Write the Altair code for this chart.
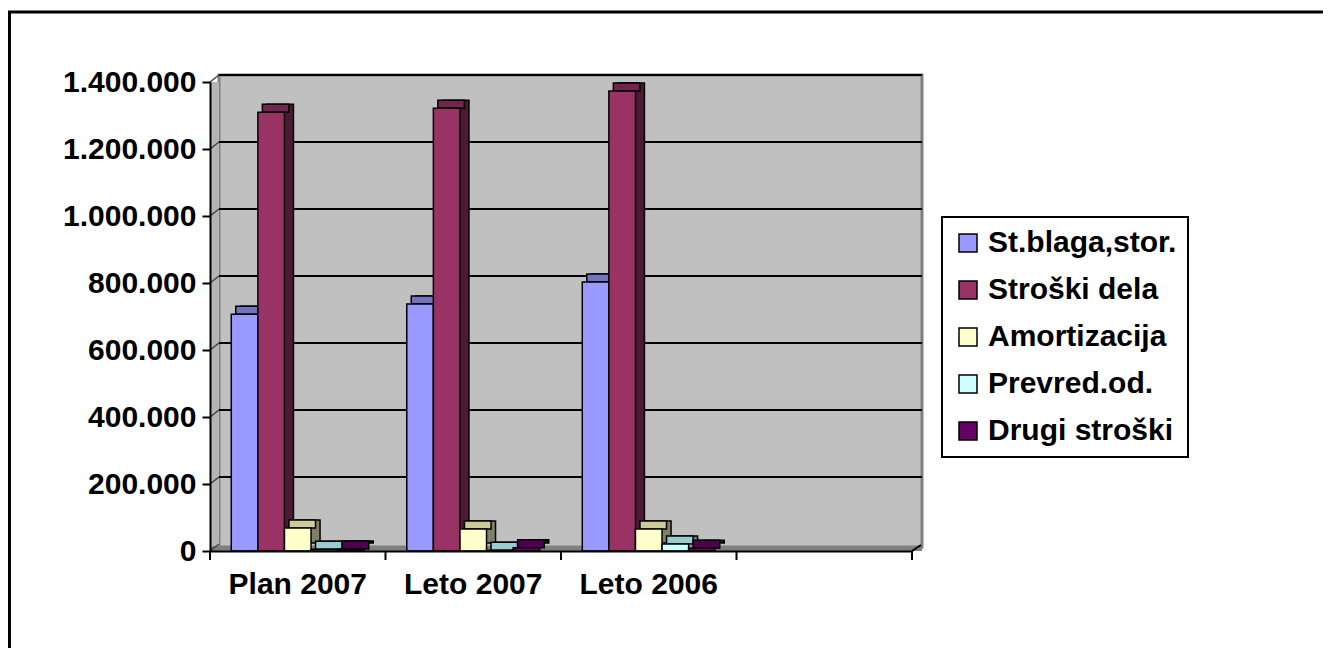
import altair as alt
import pandas as pd

categories = ["Plan 2007", "Leto 2007", "Leto 2006"]
slots = categories + [" "]
series = ["St.blaga,stor.", "Stroški dela", "Amortizacija", "Prevred.od.", "Drugi stroški"]
st_blaga = [707000, 737000, 803000]
stroski_dela = [1310000, 1322000, 1373000]
amortizacija = [69000, 66000, 66000]
prevred = [5000, 2000, 21000]
drugi = [6000, 10000, 8000]
y_ticks = [0, 200000, 400000, 600000, 800000, 1000000, 1200000, 1400000]

front_colors = ["#9999FF", "#993366", "#FFFFCC", "#CCFFFF", "#660066"]
side_colors = ["#4D4D80", "#4D1933", "#808066", "#668080", "#330033"]
top_colors = ["#7373BF", "#73264D", "#CCCC99", "#99CCCC", "#4D004D"]

rows = []
for s_i, vals in enumerate([st_blaga, stroski_dela, amortizacija, prevred, drugi]):
    for c_i, v in enumerate(vals):
        rows.append({"cat": categories[c_i], "series": series[s_i], "value": v,
                     "side": side_colors[s_i], "top": top_colors[s_i]})
df = pd.DataFrame(rows)
ticks_df = pd.DataFrame({"v": y_ticks})
grid_df = pd.DataFrame({"v": y_ticks[1:]})
slots_df = pd.DataFrame({"cat": slots})
dummy = pd.DataFrame({"d": [0]})

W, H = 702, 469
FONT = "Liberation Sans"
FS = 30
DX, DY = 9, 8

xscale = alt.Scale(domain=slots, paddingInner=0, paddingOuter=0)
yscale = alt.Scale(domain=[0, 1400000], nice=False, zero=True)

x_axis = alt.Axis(title=None, labelAngle=0, labelFont=FONT, labelFontSize=FS,
                  labelFontWeight="bold", labelColor="black", ticks=False,
                  domainColor="black", domainWidth=2, labelPadding=18, zindex=1)
y_axis = alt.Axis(title=None, values=y_ticks, grid=False, labelFont=FONT, labelFontSize=FS,
                  labelFontWeight="bold", labelColor="black", domainColor="black",
                  domainWidth=2, tickColor="black", tickSize=8, tickWidth=2,
                  labelPadding=6, zindex=1,
                  labelExpr="replace(replace(format(datum.value, ','), ',', '.'), ',', '.')")

border = alt.Chart(dummy).mark_rect(fillOpacity=0, stroke="black", strokeWidth=3).encode(
    x=alt.value(-200.5), x2=alt.value(1200), y=alt.value(-70), y2=alt.value(640))

wall = alt.Chart(dummy).mark_rect(fill="#C0C0C0", stroke="#808080", strokeWidth=3).encode(
    x=alt.value(DX), x2=alt.value(W + 10), y=alt.value(-DY + 1), y2=alt.value(H - 4))
side_wall = alt.Chart(dummy).mark_rect(fill="#B4B4B4").encode(
    x=alt.value(0), x2=alt.value(DX), y=alt.value(0), y2=alt.value(H))
floor = alt.Chart(dummy).mark_rect(fill="#808080").encode(
    x=alt.value(0), x2=alt.value(W + 10), y=alt.value(H - 5), y2=alt.value(H))

grid = alt.Chart(grid_df).mark_rule(color="black", strokeWidth=2, yOffset=-7).encode(
    y=alt.Y("v:Q", scale=yscale, axis=y_axis), x=alt.value(DX), x2=alt.value(W + 10))
diag = alt.Chart(ticks_df).mark_rule(color="#404040", strokeWidth=1.5, y2Offset=-7).encode(
    y=alt.Y("v:Q", scale=yscale, axis=y_axis), y2="v:Q", x=alt.value(0), x2=alt.value(DX))

band = W / len(slots)
side = alt.Chart(df).mark_bar(stroke="black", strokeWidth=1.5, yOffset=-DY, y2Offset=-DY).encode(
    x=alt.X("cat:N", scale=xscale, axis=x_axis),
    xOffset=alt.XOffset("series:N", scale=alt.Scale(domain=series, paddingInner=0, paddingOuter=0.8,
                                                     range=[DX, band + DX])),
    y=alt.Y("value:Q", scale=yscale, axis=y_axis),
    fill=alt.Fill("side:N", scale=None),
)
top = alt.Chart(df).mark_bar(stroke="black", strokeWidth=1.5, yOffset=-DY, y2Offset=0).encode(
    x=alt.X("cat:N", scale=xscale, axis=x_axis),
    xOffset=alt.XOffset("series:N", scale=alt.Scale(domain=series, paddingInner=0, paddingOuter=0.8,
                                                     range=[DX / 2, band + DX / 2])),
    y=alt.Y("value:Q", scale=yscale, axis=y_axis),
    y2=alt.Y2("value:Q"),
    fill=alt.Fill("top:N", scale=None),
)
front = alt.Chart(df).mark_bar(stroke="black", strokeWidth=1.5).encode(
    x=alt.X("cat:N", scale=xscale, axis=x_axis),
    xOffset=alt.XOffset("series:N", scale=alt.Scale(domain=series, paddingInner=0, paddingOuter=0.8,
                                                     range=[0, band])),
    y=alt.Y("value:Q", scale=yscale, axis=y_axis),
    color=alt.Color("series:N", scale=alt.Scale(domain=series, range=front_colors),
                    legend=alt.Legend(title=None, orient="none", legendX=732, legendY=135,
                                      padding=11, strokeColor="black",
                                      fillColor="white", labelFont=FONT, labelFontSize=FS,
                                      labelFontWeight="bold", labelColor="black", labelLimit=0,
                                      labelOffset=5, rowPadding=17, symbolType="square",
                                      symbolSize=324, symbolStrokeColor="black",
                                      symbolStrokeWidth=1.5)),
)
xticks = alt.Chart(slots_df).mark_rule(color="black", strokeWidth=2).encode(
    x=alt.X("cat:N", scale=xscale, bandPosition=0, axis=x_axis), y=alt.value(H), y2=alt.value(H + 9))
xtick_end = alt.Chart(dummy).mark_rule(color="black", strokeWidth=2).encode(
    x=alt.value(W), y=alt.value(H), y2=alt.value(H + 9))
end_diag = alt.Chart(dummy).mark_rule(color="black", strokeWidth=2).encode(
    x=alt.value(W), x2=alt.value(W + 9), y=alt.value(H), y2=alt.value(H - 6))

chart = alt.layer(
    border, wall, side_wall, floor, grid, diag, side, top, front, xticks, xtick_end, end_diag
).resolve_scale(xOffset="independent").properties(
    width=W, height=H,
    autosize=alt.AutoSizeParams(type="none"),
    padding={"left": 202, "top": 74, "right": 411, "bottom": 97},
).configure_view(stroke=None).configure(background="white").configure_legend(strokeWidth=2)

chart.save("out.html", embed_options={"renderer": "svg", "actions": False})
